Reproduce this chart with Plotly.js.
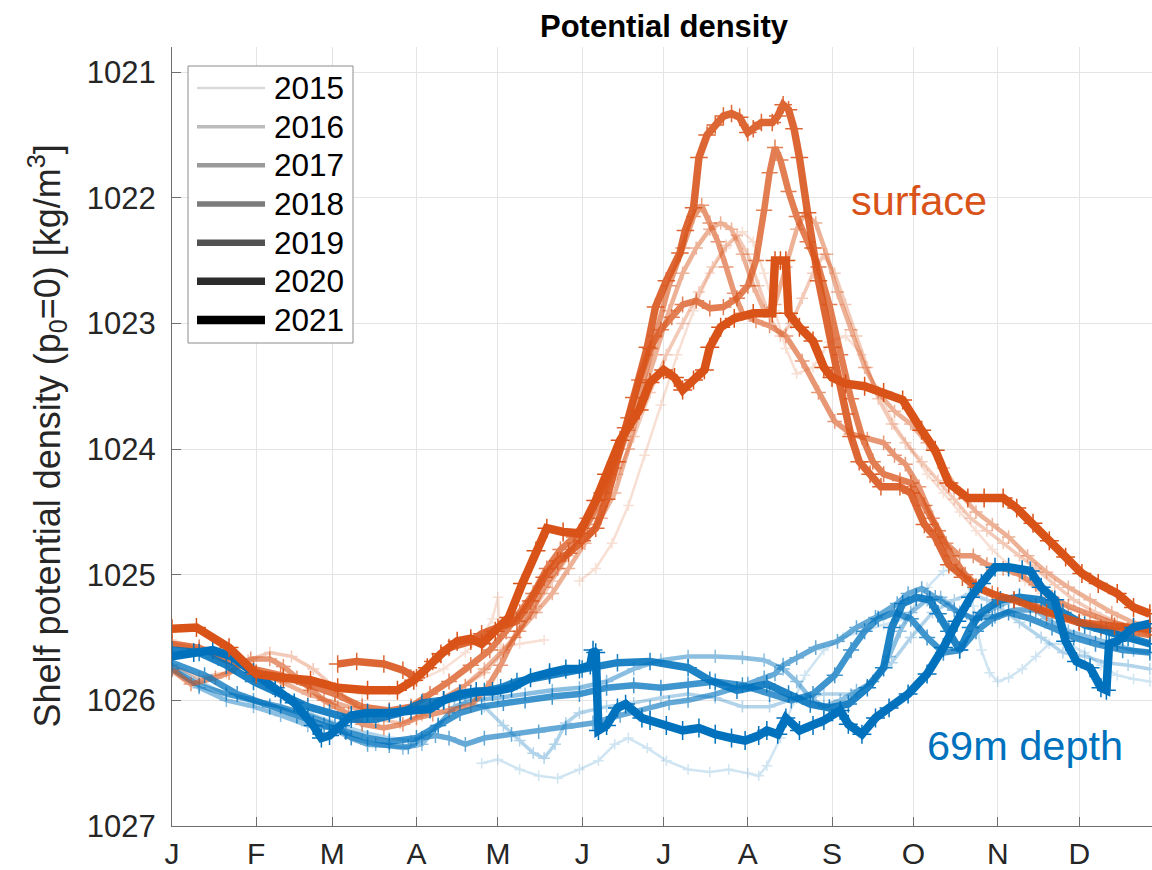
<!DOCTYPE html>
<html>
<head>
<meta charset="utf-8">
<script src="https://cdn.plot.ly/plotly-3.0.1.min.js"></script>
<style>
  html, body { margin: 0; padding: 0; background: #ffffff; overflow: hidden; }
  #chart { width: 1152px; height: 870px; }
</style>
</head>
<body>
<div id="chart"></div>
<script>
// Shelf potential density (p0 = 0), day of year vs. kg/m^3, one curve per year
// for the surface sensor and the 69 m sensor.

const years = ['2015', '2016', '2017', '2018', '2019', '2020', '2021'];
const monthStarts = [0, 31, 59, 90, 120, 151, 181, 212, 243, 273, 304, 334];
const monthLabels = ['J', 'F', 'M', 'A', 'M', 'J', 'J', 'A', 'S', 'O', 'N', 'D'];
const densityTicks = [1021, 1022, 1023, 1024, 1025, 1026, 1027];

// ---- surface ----
const surf2015Day = [0,10,20,30,40,50,60,70,80,90,100,108,114,118,120,121,128,137,138,150,156,162,168,174,180,186,192,198,204,210,214,218,222,226,230,236,242,248,254,260,266,272,278,284,290,296,302,308,314,320,328,336,344,352,360];
const surf2015Rho = [1025.52,1025.58,1025.7,1025.8,1025.85,1025.88,1025.9,1025.95,1025.92,1025.85,1025.75,1025.62,1025.5,1025.35,1025.18,1025.58,1025.55,1025.52,null,1025.05,1024.95,1024.75,1024.45,1024.05,1023.65,1023.25,1022.9,1022.6,1022.4,1022.27,1022.35,1022.6,1022.9,1023.2,1023.4,1023.35,1023.15,1023.1,1023.25,1023.55,1023.8,1024.0,1024.2,1024.35,1024.5,1024.65,1024.8,1024.92,1025.05,1025.15,1025.25,1025.32,1025.38,1025.42,1025.45];

const surf2016Day = [0,10,20,28,36,44,52,60,68,76,84,92,100,108,115,122,128,134,140,146,152,158,164,170,176,182,188,194,199,204,208,212,216,220,224,228,232,236,240,244,248,252,256,260,265,270,276,282,288,294,300,306,312,318,325,332,340,348,356,360];
const surf2016Rho = [1025.72,1025.82,1025.78,1025.68,1025.62,1025.65,1025.75,1025.9,1026.05,1026.15,1026.18,1026.12,1025.98,1025.88,1025.78,1025.62,1025.45,1025.25,1025.05,1024.85,1024.65,1024.45,1024.2,1023.9,1023.55,1023.25,1023.0,1022.75,1022.55,1022.38,1022.3,1022.45,1022.7,1022.95,1023.1,1023.0,1022.8,1022.6,1022.45,1022.6,1022.85,1023.1,1023.35,1023.6,1023.8,1023.95,1024.1,1024.25,1024.4,1024.55,1024.65,1024.75,1024.85,1024.95,1025.08,1025.2,1025.3,1025.38,1025.45,1025.48];

const surf2017Day = [0,10,20,30,40,50,60,70,80,90,100,108,115,122,128,134,140,146,152,158,163,168,173,178,183,188,193,198,202,206,210,214,218,222,226,230,233,237,241,245,250,255,260,266,272,278,284,290,296,302,308,315,322,330,338,346,354,360];
const surf2017Rho = [1025.55,1025.6,1025.65,1025.75,1025.85,1025.95,1026.02,1026.08,1026.12,1026.08,1025.98,1025.88,1025.75,1025.6,1025.45,1025.3,1025.15,1024.95,1024.75,1024.55,1024.35,1024.0,1023.6,1023.25,1022.9,1022.6,1022.4,1022.25,1022.2,1022.25,1022.45,1022.7,1022.9,1022.85,1022.55,1022.25,1022.12,1022.2,1022.45,1022.75,1023.05,1023.35,1023.55,1023.7,1023.8,1023.95,1024.15,1024.35,1024.5,1024.6,1024.7,1024.85,1024.98,1025.1,1025.2,1025.3,1025.38,1025.42];

const surf2018Day = [0,7,16,21,29,36,41,46,51,56,61,65,70,78,85,90,96,102,110,116,121,126,132,137,142,148,153,158,163,168,173,178,183,188,192,195,198,201,204,207,210,215,220,226,232,238,244,250,256,262,266,270,275,280,285,290,295,300,306,312,318,324,330,338,346,354,360];
const surf2018Rho = [1025.76,1025.87,1025.82,1025.78,1025.67,1025.67,1025.73,1025.82,1025.92,1026.0,1026.06,1026.11,1026.19,1026.22,1026.19,1026.14,1026.11,1026.08,1026.04,1025.9,1025.72,1025.5,1025.3,1025.1,1024.95,1024.75,1024.6,1024.4,1024.15,1023.85,1023.5,1023.1,1022.7,1022.4,1022.15,1022.06,1022.2,1022.35,1022.55,1022.76,1022.92,1022.98,1023.02,1023.1,1023.3,1023.55,1023.78,1023.88,1023.92,1023.95,1024.05,1024.12,1024.3,1024.55,1024.75,1024.85,1024.85,1024.92,1024.95,1025.0,1025.08,1025.18,1025.25,1025.32,1025.38,1025.42,1025.45];

const surf2019Day = [0,10,20,30,40,50,60,70,80,88,95,102,110,117,123,128,133,138,143,148,153,158,163,168,172,176,180,184,188,193,198,203,208,212,215,218,220,222,224,227,230,234,238,242,246,250,254,258,262,268,272,277,282,287,292,297,302,310,318,326,334,342,350,360];
const surf2019Rho = [1025.55,1025.58,1025.68,1025.75,1025.8,1025.88,1025.95,1026.05,1026.08,1026.05,1025.95,1025.85,1025.72,1025.6,1025.45,1025.3,1025.15,1024.95,1024.8,1024.7,1024.55,1024.35,1024.1,1023.75,1023.45,1023.2,1023.05,1022.95,1022.85,1022.82,1022.88,1022.87,1022.8,1022.7,1022.5,1022.1,1021.8,1021.6,1021.7,1021.95,1022.15,1022.35,1022.55,1022.85,1023.25,1023.6,1023.9,1024.1,1024.2,1024.25,1024.27,1024.45,1024.65,1024.85,1025.0,1025.1,1025.15,1025.2,1025.25,1025.32,1025.38,1025.42,1025.45,1025.48];

const surf2020Day = [61,68,78,85,90,96,102,110,114,120,127,132,137,142,146,151,156,160,164,167,170,175,178,182,187,189,192,194,197,200,203,206,209,212,214,217,221,223,225,227,229,231,234,236,238,243,248,250,253,257,261,268,272,277,281,286,291,296,304,310,322,334,347,360];
const surf2020Rho = [1025.71,1025.69,1025.71,1025.76,1025.82,1025.69,1025.58,1025.53,1025.47,1025.42,1025.37,1025.21,1025.02,1024.89,1024.83,1024.73,1024.63,1024.4,1024.1,1023.83,1023.59,1023.19,1022.87,1022.66,1022.44,1022.26,1022.08,1021.68,1021.5,1021.42,1021.35,1021.33,1021.36,1021.48,1021.45,1021.4,1021.4,1021.35,1021.26,1021.3,1021.45,1021.68,1022.12,1022.4,1022.66,1023.19,1023.72,1023.9,1024.1,1024.2,1024.3,1024.3,1024.35,1024.6,1024.7,1024.92,1025.02,1025.1,1025.17,1025.2,1025.3,1025.38,1025.41,1025.43];

const surf2021Day = [0,9,21,31,41,51,61,72,83,89,94,99,105,110,114,119,124,129,134,138,144,150,156,160,165,172,176,181,185,188,192,196,198,202,207,214,221,222,224,226,227,231,236,240,243,248,255,262,269,276,281,286,293,299,306,311,317,323,329,335,341,348,354,360];
const surf2021Rho = [1025.43,1025.42,1025.58,1025.79,1025.82,1025.84,1025.9,1025.92,1025.92,1025.84,1025.74,1025.63,1025.53,1025.51,1025.55,1025.45,1025.34,1025.07,1024.81,1024.63,1024.66,1024.67,1024.41,1024.2,1023.93,1023.69,1023.47,1023.37,1023.43,1023.53,1023.45,1023.37,1023.19,1023.03,1022.96,1022.92,1022.92,1022.5,1022.5,1022.5,1022.92,1023.03,1023.14,1023.35,1023.43,1023.48,1023.5,1023.55,1023.61,1023.85,1024.01,1024.27,1024.39,1024.39,1024.39,1024.47,1024.59,1024.73,1024.86,1024.99,1025.07,1025.15,1025.26,1025.31];

// ---- 69 m depth ----
const depth2015Day = [114,120,128,135,142,150,157,163,168,175,182,190,198,205,212,216,219,224,229,233,240,247,254,262,270,278,284,289,292,295,298,301,304,308,313,318,323,330,336,342,348,354,360];
const depth2015Rho = [1026.5,1026.47,1026.55,1026.6,1026.62,1026.55,1026.48,1026.35,1026.3,1026.38,1026.48,1026.55,1026.57,1026.55,1026.58,1026.6,1026.52,1026.3,1026.0,1025.8,1025.6,1025.5,1025.45,1025.4,1025.35,1025.1,1024.97,1024.95,1025.0,1025.25,1025.6,1025.78,1025.85,1025.82,1025.75,1025.65,1025.55,1025.55,1025.62,1025.72,1025.8,1025.83,1025.85];

const depth2016Day = [0,10,20,30,40,50,60,70,80,88,95,102,108,115,122,128,133,137,141,145,150,160,170,180,190,200,210,220,230,240,250,258,265,272,280,288,294,300,306,312,320,328,336,344,352,360];
const depth2016Rho = [1025.72,1025.85,1025.95,1026.02,1026.05,1026.1,1026.18,1026.25,1026.3,1026.32,1026.25,1026.1,1026.02,1026.05,1026.2,1026.32,1026.42,1026.46,1026.35,1026.18,1026.1,1026.05,1026.02,1025.98,1025.95,1025.98,1026.05,1026.05,1025.98,1025.95,1025.95,1025.85,1025.7,1025.5,1025.3,1025.2,1025.15,1025.2,1025.28,1025.38,1025.5,1025.62,1025.65,1025.7,1025.72,1025.75];

const depth2017Day = [0,10,20,30,40,50,58,66,75,85,92,98,104,110,120,130,140,150,160,170,180,190,200,210,218,225,230,235,240,246,252,258,264,268,272,278,283,290,296,304,310,316,322,330,338,346,354,360];
const depth2017Rho = [1025.75,1025.9,1026.0,1026.05,1026.12,1026.2,1026.22,1026.3,1026.35,1026.38,1026.35,1026.2,1026.05,1026.0,1025.98,1025.95,1025.92,1025.9,1025.85,1025.75,1025.68,1025.65,1025.65,1025.66,1025.68,1025.75,1025.85,1025.98,1026.05,1026.0,1025.92,1025.85,1025.65,1025.45,1025.3,1025.2,1025.18,1025.3,1025.35,1025.25,1025.2,1025.25,1025.35,1025.45,1025.5,1025.55,1025.6,1025.62];

const depth2018Day = [0,10,20,30,40,50,60,66,72,80,87,92,97,102,108,115,125,135,145,155,165,176,183,190,200,212,218,222,225,230,237,245,252,259,267,271,276,281,288,295,303,310,318,326,334,342,350,360];
const depth2018Rho = [1025.75,1025.88,1025.95,1026.0,1026.05,1026.12,1026.2,1026.3,1026.35,1026.36,1026.37,1026.3,1026.28,1026.3,1026.35,1026.3,1026.27,1026.25,1026.22,1026.18,1026.12,1026.06,1026.02,1026.0,1025.95,1025.87,1025.82,1025.79,1025.72,1025.66,1025.58,1025.53,1025.42,1025.34,1025.23,1025.15,1025.11,1025.18,1025.28,1025.35,1025.33,1025.28,1025.28,1025.32,1025.38,1025.45,1025.5,1025.55];

const depth2019Day = [0,12,24,36,46,56,64,72,80,90,98,106,114,122,130,140,150,160,170,180,190,200,210,220,228,236,244,250,255,260,266,272,278,284,290,296,302,308,316,324,332,340,350,360];
const depth2019Rho = [1025.7,1025.8,1025.95,1026.05,1026.12,1026.2,1026.25,1026.3,1026.33,1026.3,1026.2,1026.1,1026.05,1026.02,1026.0,1025.97,1025.95,1025.9,1025.88,1025.9,1025.88,1025.85,1025.88,1025.95,1026.0,1025.95,1025.8,1025.6,1025.45,1025.35,1025.3,1025.35,1025.5,1025.62,1025.6,1025.45,1025.35,1025.3,1025.35,1025.42,1025.5,1025.55,1025.6,1025.62];

const depth2020Day = [0,10,20,30,40,50,58,66,75,84,92,100,110,115,121,127,139,151,164,176,190,198,208,219,227,235,242,249,256,262,265,269,274,279,282,286,290,294,298,305,312,320,328,336,344,352,360];
const depth2020Rho = [1025.6,1025.62,1025.72,1025.85,1025.95,1026.05,1026.1,1026.15,1026.15,1026.1,1026.02,1026.0,1025.95,1025.93,1025.9,1025.85,1025.8,1025.75,1025.7,1025.69,1025.74,1025.84,1025.92,1025.87,1025.95,1026.03,1026.06,1026.03,1025.9,1025.74,1025.42,1025.23,1025.18,1025.2,1025.31,1025.45,1025.6,1025.42,1025.3,1025.2,1025.18,1025.2,1025.3,1025.4,1025.45,1025.5,1025.55];

const depth2021Day = [0,8,15,22,30,38,45,52,55,58,62,66,72,80,88,95,100,106,112,118,125,132,139,145,150,154,155,156,157,160,164,167,173,176,182,188,194,200,206,211,216,219,223,226,231,236,240,246,249,254,259,264,271,278,284,289,294,298,303,308,313,316,320,325,329,333,338,342,344,345,348,354,360];
const depth2021Rho = [1025.65,1025.62,1025.6,1025.65,1025.78,1025.9,1026.02,1026.2,1026.3,1026.28,1026.2,1026.12,1026.1,1026.1,1026.08,1026.07,1026.0,1025.95,1025.93,1025.93,1025.9,1025.82,1025.78,1025.75,1025.75,1025.72,1025.6,1025.62,1026.24,1026.2,1026.06,1026.03,1026.14,1026.16,1026.2,1026.24,1026.22,1026.27,1026.3,1026.32,1026.28,1026.24,1026.27,1026.14,1026.24,1026.2,1026.16,1026.08,1026.19,1026.27,1026.14,1026.06,1025.95,1025.79,1025.58,1025.37,1025.18,1025.07,1024.94,1024.94,1024.96,1024.97,1025.1,1025.2,1025.53,1025.69,1025.74,1025.9,1025.92,1025.55,1025.53,1025.42,1025.39];

const surfDays = [surf2015Day, surf2016Day, surf2017Day, surf2018Day, surf2019Day, surf2020Day, surf2021Day];
const surfRho  = [surf2015Rho, surf2016Rho, surf2017Rho, surf2018Rho, surf2019Rho, surf2020Rho, surf2021Rho];
const depthDays = [depth2015Day, depth2016Day, depth2017Day, depth2018Day, depth2019Day, depth2020Day, depth2021Day];
const depthRho  = [depth2015Rho, depth2016Rho, depth2017Rho, depth2018Rho, depth2019Rho, depth2020Rho, depth2021Rho];

// ---- styling ----
const SURF_COLOR = '#D95319';
const DEPTH_COLOR = '#0072BD';
const yearAlpha = [0.18, 0.3, 0.45, 0.6, 0.75, 0.88, 1.0];
const yearWidth = [2.5, 3.5, 4.5, 5.5, 6.5, 7.5, 8.5];
const legendGrey = ['#d9d9d9', '#bcbcbc', '#9a9a9a', '#7b7b7b', '#525252', '#2c2c2c', '#000000'];
const FONT = 'Liberation Sans, Arial, Helvetica, sans-serif';
const TICK_SIZE = 31;

function curve(x, y, k, color) {
  return {
    type: 'scatter',
    mode: 'lines+markers',
    x: x,
    y: y,
    opacity: yearAlpha[k],
    line: { color: color, width: yearWidth[k] },
    marker: { symbol: 'cross-thin-open', size: yearWidth[k] + 5, color: color, line: { color: color, width: 1.5 } },
    showlegend: false,
    hoverinfo: 'skip'
  };
}

const traces = [];
for (let k = 0; k < years.length; k++) {
  traces.push(curve(depthDays[k], depthRho[k], k, DEPTH_COLOR));
  traces.push(curve(surfDays[k], surfRho[k], k, SURF_COLOR));
}

// ---- plot geometry (pixels) ----
const W = 1152, H = 870;
const M = { l: 172, r: 0, t: 47, b: 44 };
const plotW = W - M.l - M.r;
const plotH = H - M.t - M.b;
const px2paperX = px => (px - M.l) / plotW;
const px2paperY = py => (H - M.b - py) / plotH;

// Legend drawn as a boxed key: grey sample line + year label per row
const shapes = [{
  type: 'rect', xref: 'paper', yref: 'paper', layer: 'above',
  x0: px2paperX(188), x1: px2paperX(353), y0: px2paperY(343), y1: px2paperY(66),
  line: { color: '#8c8c8c', width: 1 }, fillcolor: '#ffffff'
}];
const annotations = [];
years.forEach((yr, k) => {
  const rowY = px2paperY(88 + k * 38.67);
  shapes.push({
    type: 'line', xref: 'paper', yref: 'paper', layer: 'above',
    x0: px2paperX(197), x1: px2paperX(265), y0: rowY, y1: rowY,
    line: { color: legendGrey[k], width: yearWidth[k] }
  });
  annotations.push({
    xref: 'paper', yref: 'paper', x: px2paperX(272), y: rowY,
    xanchor: 'left', yanchor: 'middle', showarrow: false,
    text: yr, font: { family: FONT, size: 31.5, color: '#000000' }
  });
});

annotations.push({
  xref: 'x', yref: 'y', x: 275.2, y: 1022.02, showarrow: false,
  xanchor: 'center', yanchor: 'middle',
  text: 'surface', font: { family: FONT, size: 41.5, color: SURF_COLOR }
});
annotations.push({
  xref: 'x', yref: 'y', x: 313.9, y: 1026.36, showarrow: false,
  xanchor: 'center', yanchor: 'middle',
  text: '69m depth', font: { family: FONT, size: 41.5, color: DEPTH_COLOR }
});
annotations.push({
  xref: 'paper', yref: 'paper', x: px2paperX(47), y: 0.5, showarrow: false,
  xanchor: 'center', yanchor: 'middle', textangle: -90,
  text: 'Shelf potential density (p<sub>0</sub>=0) [kg/m<sup>3</sup>]',
  font: { family: FONT, size: 36, color: '#262626' }
});

const layout = {
  width: W,
  height: H,
  margin: M,
  paper_bgcolor: '#ffffff',
  plot_bgcolor: '#ffffff',
  font: { family: FONT, color: '#262626' },
  title: {
    text: '<b>Potential density</b>',
    font: { family: FONT, size: 31, color: '#000000' },
    xref: 'paper', x: px2paperX(664), xanchor: 'center',
    yref: 'container', y: 1 - 26 / H, yanchor: 'middle'
  },
  xaxis: {
    range: [0, 360.8],
    tickmode: 'array',
    tickvals: monthStarts,
    ticktext: monthLabels,
    ticks: 'inside', ticklen: 9, tickwidth: 1, tickcolor: '#6e6e6e',
    showline: true, linecolor: '#6e6e6e', linewidth: 1,
    showgrid: true, gridcolor: '#e4e4e4', gridwidth: 1,
    zeroline: false,
    tickfont: { family: FONT, size: 30, color: '#262626' },
    ticklabelstandoff: 1
  },
  yaxis: {
    range: [1027, 1020.8],
    tickmode: 'array',
    tickvals: densityTicks,
    ticktext: densityTicks.map(String),
    ticks: 'inside', ticklen: 9, tickwidth: 1, tickcolor: '#6e6e6e',
    showline: true, linecolor: '#6e6e6e', linewidth: 1,
    showgrid: true, gridcolor: '#e4e4e4', gridwidth: 1,
    zeroline: false,
    tickfont: { family: FONT, size: TICK_SIZE, color: '#262626' },
    ticklabelstandoff: 9
  },
  shapes: shapes,
  annotations: annotations,
  showlegend: false
};

Plotly.newPlot('chart', traces, layout, { displayModeBar: false, staticPlot: true });
</script>
</body>
</html>
